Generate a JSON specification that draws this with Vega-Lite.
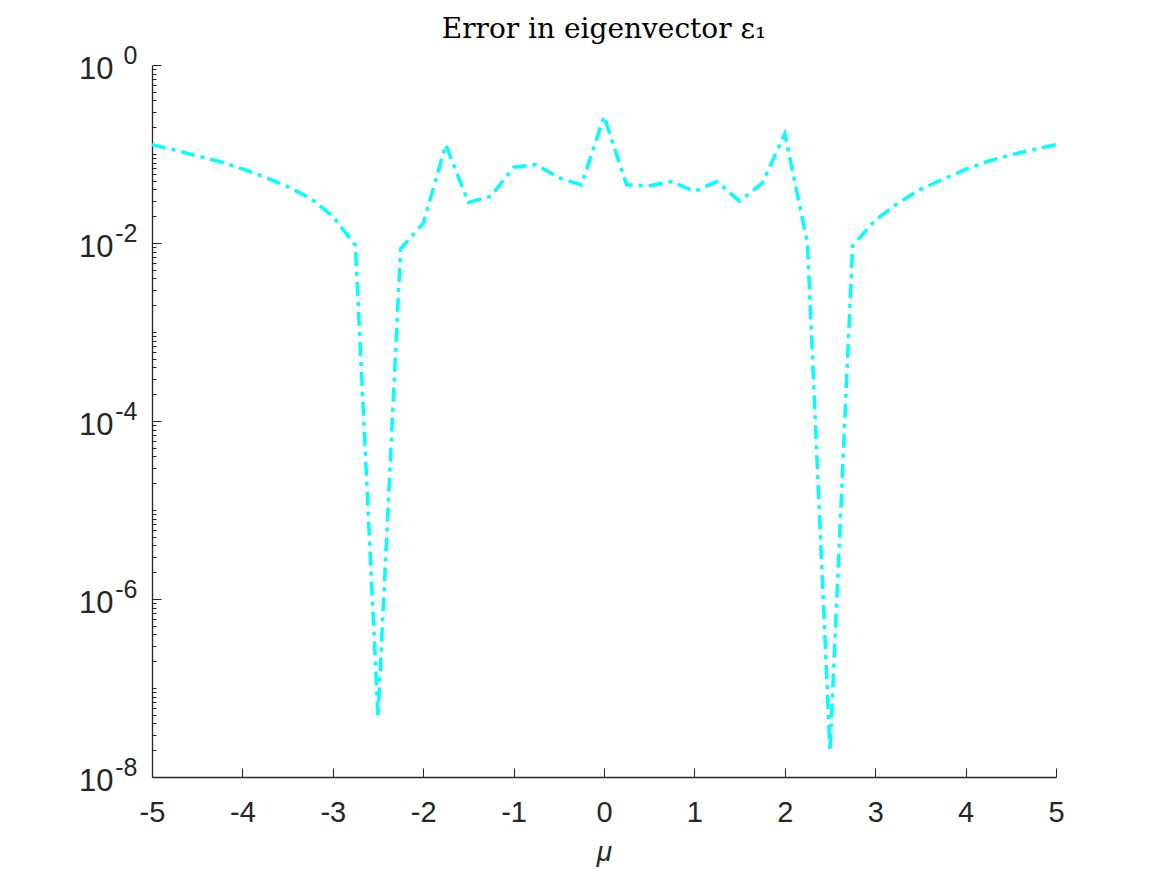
{
  "$schema": "https://vega.github.io/schema/vega-lite/v6.json",
  "autosize": {"type": "none"},
  "padding": {"left": 152, "top": 65, "right": 111, "bottom": 98},
  "width": 904,
  "height": 712,
  "background": "white",
  "title": {"text": "Error in eigenvector ε₁", "font": "DejaVu Serif", "fontSize": 28, "fontWeight": "normal", "color": "#000000", "anchor": "middle", "baseline": "alphabetic", "offset": 26, "dy": 49},
  "config": {"view": {"stroke": null}},
  "data": {"values": [
    {"mu": -5, "err": 0.127}, {"mu": -4.75, "err": 0.111}, {"mu": -4.5, "err": 0.095}, {"mu": -4.25, "err": 0.082},
    {"mu": -4, "err": 0.068}, {"mu": -3.75, "err": 0.055}, {"mu": -3.5, "err": 0.043}, {"mu": -3.25, "err": 0.032},
    {"mu": -3, "err": 0.020}, {"mu": -2.75, "err": 0.0094}, {"mu": -2.5, "err": 4.8e-8}, {"mu": -2.25, "err": 0.0086},
    {"mu": -2, "err": 0.0166}, {"mu": -1.75, "err": 0.127}, {"mu": -1.5, "err": 0.0286}, {"mu": -1.25, "err": 0.0335},
    {"mu": -1, "err": 0.071}, {"mu": -0.75, "err": 0.076}, {"mu": -0.5, "err": 0.054}, {"mu": -0.25, "err": 0.045},
    {"mu": 0, "err": 0.265}, {"mu": 0.25, "err": 0.045}, {"mu": 0.5, "err": 0.044}, {"mu": 0.75, "err": 0.049},
    {"mu": 1, "err": 0.038}, {"mu": 1.25, "err": 0.049}, {"mu": 1.5, "err": 0.0295}, {"mu": 1.75, "err": 0.047},
    {"mu": 2, "err": 0.169}, {"mu": 2.25, "err": 0.0100}, {"mu": 2.5, "err": 1.95e-8}, {"mu": 2.75, "err": 0.0093},
    {"mu": 3, "err": 0.018}, {"mu": 3.25, "err": 0.028}, {"mu": 3.5, "err": 0.040}, {"mu": 3.75, "err": 0.052},
    {"mu": 4, "err": 0.067}, {"mu": 4.25, "err": 0.083}, {"mu": 4.5, "err": 0.098}, {"mu": 4.75, "err": 0.112},
    {"mu": 5, "err": 0.127}
  ]},
  "resolve": {"scale": {"y": "independent"}, "axis": {"y": "independent"}},
  "layer": [
    {
      "mark": {"type": "line", "opacity": 0, "clip": true},
      "encoding": {
        "x": {"field": "mu", "type": "quantitative", "scale": {"domain": [-5, 5], "nice": false, "zero": false},
          "axis": {"title": "μ", "titleFont": "Liberation Sans", "titleFontStyle": "italic", "titleFontWeight": "normal", "titleFontSize": 28, "titleColor": "#262626", "titlePadding": 11,
            "values": [-5, -4, -3, -2, -1, 0, 1, 2, 3, 4, 5], "labelExpr": "'' + datum.value", "labelFont": "Liberation Sans", "labelFontSize": 29, "labelColor": "#262626", "labelPadding": 30,
            "tickSize": -9, "tickColor": "#262626", "tickWidth": 1, "domainColor": "#262626", "domainWidth": 1.3, "grid": false, "labelFlush": false, "labelOverlap": false}},
        "y": {"field": "err", "type": "quantitative", "scale": {"type": "log", "domain": [1e-8, 1], "nice": false},
          "axis": {"orient": "left", "title": null, "domain": false, "ticks": true, "tickSize": -4, "tickColor": "#262626", "tickWidth": 1,
            "values": [9e-1, 8e-1, 7e-1, 6e-1, 5e-1, 4e-1, 3e-1, 2e-1, 1e-1, 9e-2, 8e-2, 7e-2, 6e-2, 5e-2, 4e-2, 3e-2, 2e-2,
                       9e-3, 8e-3, 7e-3, 6e-3, 5e-3, 4e-3, 3e-3, 2e-3, 1e-3, 9e-4, 8e-4, 7e-4, 6e-4, 5e-4, 4e-4, 3e-4, 2e-4,
                       9e-5, 8e-5, 7e-5, 6e-5, 5e-5, 4e-5, 3e-5, 2e-5, 1e-5, 9e-6, 8e-6, 7e-6, 6e-6, 5e-6, 4e-6, 3e-6, 2e-6,
                       9e-7, 8e-7, 7e-7, 6e-7, 5e-7, 4e-7, 3e-7, 2e-7, 1e-7, 9e-8, 8e-8, 7e-8, 6e-8, 5e-8, 4e-8, 3e-8, 2e-8],
            "labels": false, "grid": false}}
      }
    },
    {
      "mark": {"type": "line", "opacity": 0, "clip": true},
      "encoding": {
        "x": {"field": "mu", "type": "quantitative", "scale": {"domain": [-5, 5], "nice": false, "zero": false}},
        "y": {"field": "err", "type": "quantitative", "scale": {"type": "log", "domain": [1e-8, 1], "nice": false},
          "axis": {"orient": "left", "title": null, "domain": false, "ticks": false,
            "values": [1, 1e-2, 1e-4, 1e-6, 1e-8],
            "labelExpr": "'' + round(log(datum.value)/LN10)",
            "labelFont": "Liberation Sans", "labelFontSize": 25, "labelColor": "#262626", "labelPadding": 15, "labelOffset": -10, "labelBaseline": "middle", "labelAlign": "right", "grid": false}}
      }
    },
    {
      "mark": {"type": "line", "color": "#00FFFF", "strokeWidth": 3.5, "strokeDash": [14, 6, 4, 6], "clip": true},
      "encoding": {
        "x": {"field": "mu", "type": "quantitative", "scale": {"domain": [-5, 5], "nice": false, "zero": false}},
        "y": {"field": "err", "type": "quantitative", "scale": {"type": "log", "domain": [1e-8, 1], "nice": false},
          "axis": {"orient": "left", "title": null, "values": [1, 1e-2, 1e-4, 1e-6, 1e-8], "labelExpr": "'10'",
            "labelFont": "Liberation Sans", "labelFontSize": 31, "labelColor": "#262626", "labelPadding": 48, "labelOffset": 4, "labelBaseline": "middle",
            "tickSize": -9, "tickColor": "#262626", "tickWidth": 1, "domainColor": "#262626", "domainWidth": 1.3, "grid": false}}
      }
    }
  ]
}
